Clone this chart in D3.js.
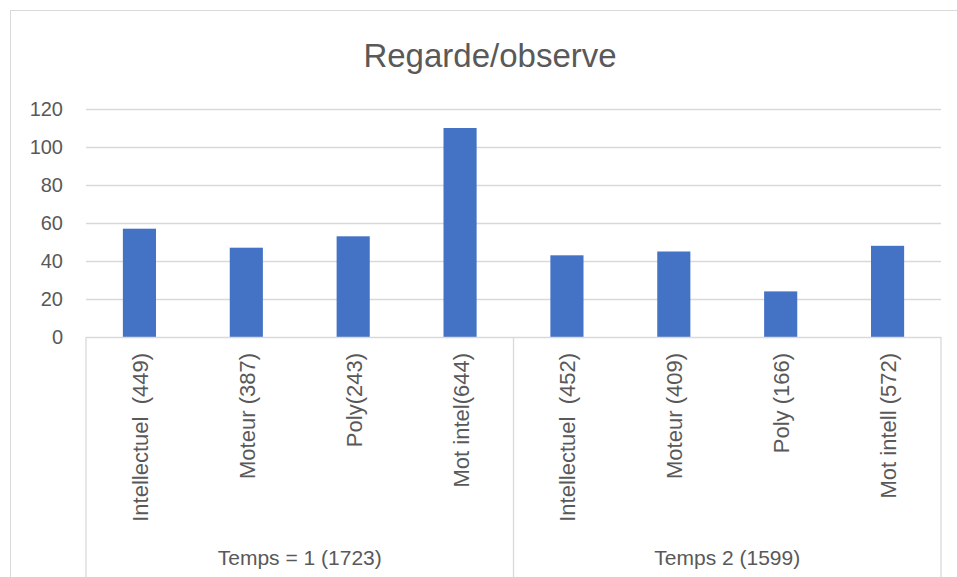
<!DOCTYPE html>
<html>
<head>
<meta charset="utf-8">
<script src="https://cdn.jsdelivr.net/npm/d3@7"></script>
<style>
  body { margin: 0; background: #fff; }
  text { font-family: "Liberation Sans", Arial, sans-serif; fill: #595959; white-space: pre; }
</style>
</head>
<body>
<svg width="957" height="577"></svg>
<script>
// data
var categories = ["Intellectuel  (449)", "Moteur (387)", "Poly(243)", "Mot intel(644)",
                  "Intellectuel  (452)", "Moteur (409)", "Poly (166)", "Mot intell (572)"];
var values = [57, 47, 53, 110, 43, 45, 24, 48];
var groups = ["Temps = 1 (1723)", "Temps 2 (1599)"];
var groupSize = [4, 4];
var yTicks = [0, 20, 40, 60, 80, 100, 120];

var svg = d3.select("svg"),
    width = +svg.attr("width"),
    height = +svg.attr("height");

var plotLeft = 86, plotRight = 941, plotTop = 109, plotBottom = 337;
var gridColor = "#d9d9d9";

// chart frame (only left/top edges show in the crop)
svg.append("rect")
  .attr("x", 10.5).attr("y", 10.5)
  .attr("width", 980).attr("height", 600)
  .attr("fill", "none").attr("stroke", gridColor);

svg.append("text")
  .attr("x", 490)
  .attr("y", 55)
  .attr("text-anchor", "middle")
  .attr("dominant-baseline", "central")
  .style("font-size", "33px")
  .text("Regarde/observe");

var x = d3.scaleBand().domain(d3.range(categories.length)).range([plotLeft, plotRight]).padding(0);
var y = d3.scaleLinear().domain([0, 120]).range([plotBottom, plotTop]);

// gridlines
svg.append("g").selectAll("line")
  .data(yTicks.filter(function(d) { return d > 0; }))
  .enter().append("line")
  .attr("x1", plotLeft).attr("x2", plotRight)
  .attr("y1", function(d) { return Math.round(y(d)) + 0.5; })
  .attr("y2", function(d) { return Math.round(y(d)) + 0.5; })
  .attr("stroke", gridColor).attr("stroke-width", 1.3);

// y tick labels
svg.append("g").selectAll("text")
  .data(yTicks)
  .enter().append("text")
  .attr("x", 63)
  .attr("y", function(d) { return y(d); })
  .attr("text-anchor", "end")
  .attr("dominant-baseline", "central")
  .style("font-size", "20px")
  .text(function(d) { return d; });

// bars
var barW = x.bandwidth() * 0.31;
svg.append("g").selectAll("rect")
  .data(values)
  .enter().append("rect")
  .attr("x", function(d, i) { return x(i) + (x.bandwidth() - barW) / 2; })
  .attr("y", function(d) { return y(d); })
  .attr("width", barW)
  .attr("height", function(d) { return y(0) - y(d); })
  .attr("fill", "#4472C4");

// category axis line
svg.append("line")
  .attr("x1", plotLeft).attr("x2", plotRight)
  .attr("y1", plotBottom + 0.5).attr("y2", plotBottom + 0.5)
  .attr("stroke", gridColor).attr("stroke-width", 1.3);

// group separators
var bounds = [0];
groupSize.forEach(function(n, i) { bounds.push(bounds[i] + n); });
svg.append("g").selectAll("line")
  .data(bounds)
  .enter().append("line")
  .attr("x1", function(i) { return i < categories.length ? x(i) : plotRight; })
  .attr("x2", function(i) { return i < categories.length ? x(i) : plotRight; })
  .attr("y1", plotBottom).attr("y2", height)
  .attr("stroke", gridColor).attr("stroke-width", 1.3);

// rotated category labels
svg.append("g").selectAll("text")
  .data(categories)
  .enter().append("text")
  .attr("transform", function(d, i) {
    return "translate(" + (x(i) + x.bandwidth() / 2 + 1) + "," + 353 + ") rotate(-90)";
  })
  .attr("text-anchor", "end")
  .attr("dominant-baseline", "central")
  .style("font-size", "22px")
  .text(function(d) { return d; });

// group labels
svg.append("g").selectAll("text")
  .data(groups)
  .enter().append("text")
  .attr("x", function(d, i) {
    var a = x(bounds[i]);
    var b = bounds[i + 1] < categories.length ? x(bounds[i + 1]) : plotRight;
    return (a + b) / 2;
  })
  .attr("y", 557)
  .attr("text-anchor", "middle")
  .attr("dominant-baseline", "central")
  .style("font-size", "21px")
  .text(function(d) { return d; });
</script>
</body>
</html>
